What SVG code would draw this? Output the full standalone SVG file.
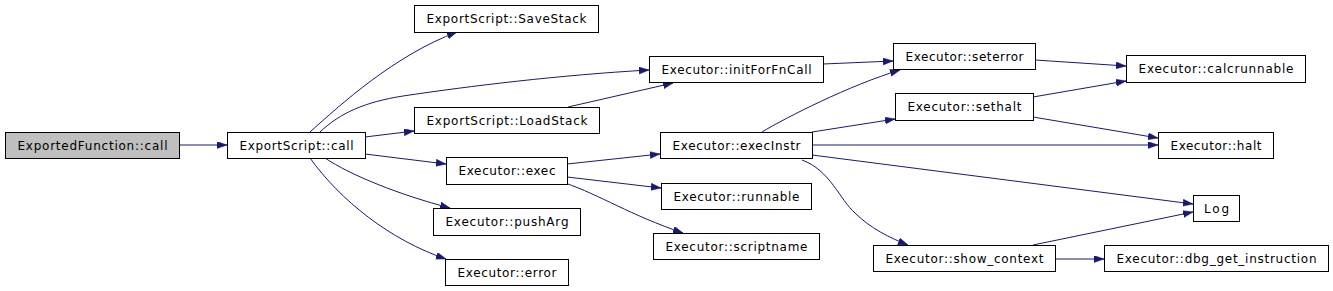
<svg xmlns="http://www.w3.org/2000/svg" width="1333" height="291" viewBox="0 0 1333 291">
<style>
.n rect{fill:#ffffff;stroke:#000000;stroke-width:1}
.n text{font-family:"DejaVu Sans",sans-serif;font-size:12px;fill:#000000;text-anchor:middle}
#edges path{fill:none;stroke:#191970;stroke-width:1;marker-end:url(#ah)}
</style>
<defs>
<marker id="ah" markerUnits="userSpaceOnUse" markerWidth="11" markerHeight="8" refX="10" refY="3.5" orient="auto">
<path d="M0,0 L10,3.5 L0,7 z" fill="#191970" stroke="#191970" stroke-width="0.5"/>
</marker>
</defs>
<rect width="1333" height="291" fill="#ffffff"/>
<g id="edges">
<path d="M179,145 L227,145"/>
<path d="M310,132 C340,105 395,55 457,32"/>
<path d="M320,132 C340,113 365,102 403,96 C470,86 560,75 649,70"/>
<path d="M365,137 L414,131"/>
<path d="M365,154 L446,164"/>
<path d="M325,158 C350,175 400,195 450,208"/>
<path d="M310,158 C340,200 390,240 446,259"/>
<path d="M568,107 L673,83"/>
<path d="M823,64 L893,61"/>
<path d="M762,132 C785,118 850,85 900,70"/>
<path d="M812,132 L895,119"/>
<path d="M812,145 L1158,145"/>
<path d="M812,155 L1193,204"/>
<path d="M802,160 C830,170 840,200 855,213 C870,228 890,238 908,245"/>
<path d="M1033,245 L1193,212"/>
<path d="M1055,259 L1104,259"/>
<path d="M1035,60 L1126,66"/>
<path d="M1033,97 L1126,81"/>
<path d="M1033,117 L1158,138"/>
<path d="M567,164 L660,154"/>
<path d="M567,177 L661,188"/>
<path d="M565,183 C600,195 630,215 683,233"/>
</g>
<g id="n1" class="n"><rect x="5.5" y="132.5" width="174" height="26" style="fill:#bfbfbf"/><text x="92.5" y="149.5" textLength="150" lengthAdjust="spacing">ExportedFunction::call</text></g>
<g id="n2" class="n"><rect x="227.5" y="132.5" width="138" height="26"/><text x="296.5" y="149.5" textLength="114" lengthAdjust="spacing">ExportScript::call</text></g>
<g id="n3" class="n"><rect x="414.5" y="5.5" width="184" height="27"/><text x="506.5" y="22.5" textLength="160" lengthAdjust="spacing">ExportScript::SaveStack</text></g>
<g id="n4" class="n"><rect x="414.5" y="107.5" width="185" height="26"/><text x="507" y="124.5" textLength="161" lengthAdjust="spacing">ExportScript::LoadStack</text></g>
<g id="n5" class="n"><rect x="649.5" y="56.5" width="174" height="26"/><text x="736.5" y="73.5" textLength="150" lengthAdjust="spacing">Executor::initForFnCall</text></g>
<g id="n6" class="n"><rect x="893.5" y="43.5" width="142" height="26"/><text x="964.5" y="60.5" textLength="118" lengthAdjust="spacing">Executor::seterror</text></g>
<g id="n7" class="n"><rect x="895.5" y="93.5" width="138" height="27"/><text x="964.5" y="110.5" textLength="114" lengthAdjust="spacing">Executor::sethalt</text></g>
<g id="n8" class="n"><rect x="1126.5" y="55.5" width="179" height="27"/><text x="1216" y="72.5" textLength="155" lengthAdjust="spacing">Executor::calcrunnable</text></g>
<g id="n9" class="n"><rect x="1158.5" y="132.5" width="115" height="26"/><text x="1216" y="149.5" textLength="91" lengthAdjust="spacing">Executor::halt</text></g>
<g id="n10" class="n"><rect x="660.5" y="132.5" width="152" height="26"/><text x="736.5" y="149.5" textLength="128" lengthAdjust="spacing">Executor::execInstr</text></g>
<g id="n11" class="n"><rect x="446.5" y="157.5" width="121" height="27"/><text x="507" y="174.5" textLength="97" lengthAdjust="spacing">Executor::exec</text></g>
<g id="n12" class="n"><rect x="661.5" y="183.5" width="150" height="26"/><text x="736.5" y="200.5" textLength="126" lengthAdjust="spacing">Executor::runnable</text></g>
<g id="n13" class="n"><rect x="433.5" y="208.5" width="147" height="27"/><text x="507" y="225.5" textLength="123" lengthAdjust="spacing">Executor::pushArg</text></g>
<g id="n14" class="n"><rect x="653.5" y="233.5" width="166" height="26"/><text x="736.5" y="250.5" textLength="142" lengthAdjust="spacing">Executor::scriptname</text></g>
<g id="n15" class="n"><rect x="445.5" y="259.5" width="123" height="26"/><text x="507" y="276.5" textLength="99" lengthAdjust="spacing">Executor::error</text></g>
<g id="n16" class="n"><rect x="1193.5" y="195.5" width="46" height="26"/><text x="1216.5" y="212.5" textLength="25" lengthAdjust="spacing">Log</text></g>
<g id="n17" class="n"><rect x="873.5" y="245.5" width="182" height="26"/><text x="964.5" y="262.5" textLength="158" lengthAdjust="spacing">Executor::show_context</text></g>
<g id="n18" class="n"><rect x="1104.5" y="245.5" width="224" height="26"/><text x="1216.5" y="262.5" textLength="200" lengthAdjust="spacing">Executor::dbg_get_instruction</text></g>
</svg>
